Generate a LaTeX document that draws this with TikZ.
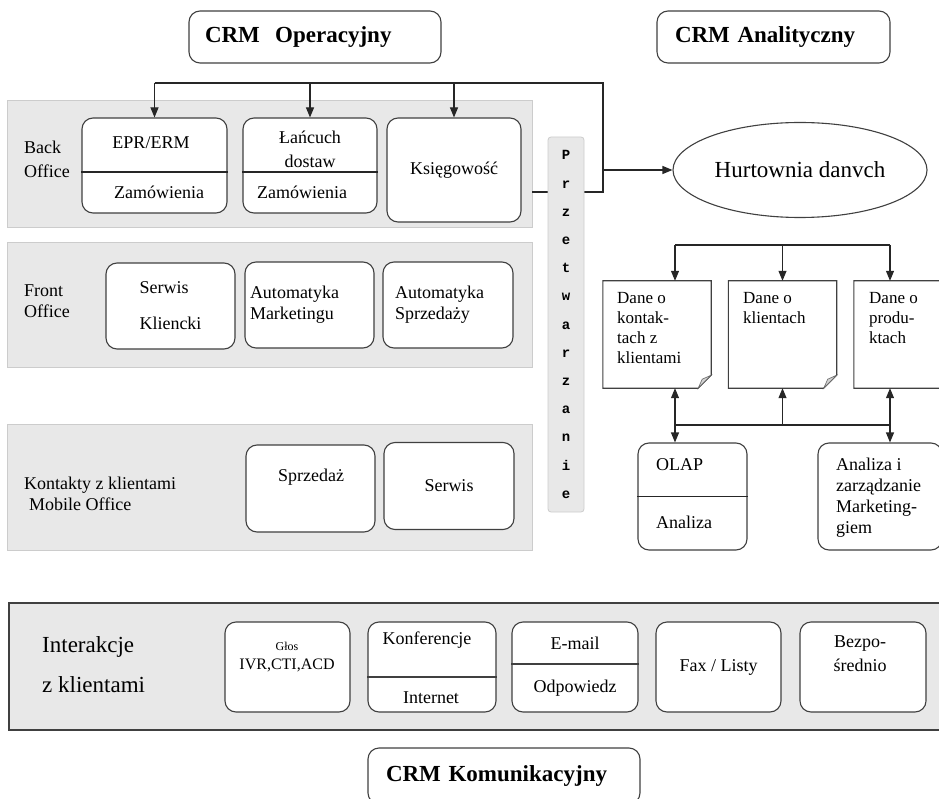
\documentclass[tikz,border=0pt]{standalone}
\usepackage{fontspec}
\setmainfont{Liberation Serif}
\setmonofont{Liberation Mono}
\usepackage{tikz}
\usetikzlibrary{arrows.meta, shapes.geometric}

\begin{document}
\begin{tikzpicture}[x=1pt, y=-1pt,
    band/.style={draw=gray!40, fill=gray!18, line width=0.8pt},
    rbox/.style={draw=black!75, fill=white, rounded corners=11pt, line width=1.1pt, inner sep=0pt},
    crmbox/.style={rbox, font=\fontsize{23}{27}\selectfont\bfseries, align=left},
    txt/.style={font=\fontsize{18}{21}\selectfont, align=left, inner sep=0pt},
    doctxt/.style={txt, font=\fontsize{17}{20}\selectfont, anchor=north west},
    docbox/.style={fill=white, inner sep=0pt, minimum width=108pt, minimum height=107pt},
    conn/.style={line width=1.1pt, black!85},
    arr/.style={-{Triangle[length=10pt, width=8pt]}},
    darr/.style={{Triangle[length=10pt, width=8pt]}-{Triangle[length=10pt, width=8pt]}}]

    \useasboundingbox (0,0) rectangle (939,799);
    \clip (0,0) rectangle (939,799);

    % Grey bands
    \node[band, minimum width=525pt, minimum height=127pt] (back) at (269.5,163.5) {};
    \node[band, minimum width=525pt, minimum height=125pt] (front) at (269.5,304.5) {};
    \node[band, minimum width=525pt, minimum height=126pt] (mobile) at (269.5,487) {};
    \node[band, draw=black!75, line width=1.6pt, minimum width=941pt, minimum height=127pt] (inter) at (479.5,666.5) {};

    % CRM titles
    \node[crmbox, minimum height=52pt, text width=220pt, inner xsep=16pt] (op) at (315,37) {CRM\ \ Operacyjny};
    \node[crmbox, minimum height=52pt, text width=197pt, inner xsep=18pt] (ana) at (773.5,37) {CRM Analityczny};
    \node[crmbox, minimum height=56pt, text width=236pt, inner xsep=18pt] (kom) at (504,776) {CRM Komunikacyjny};

    % Back office
    \node[txt, anchor=west] (backl) at (24,159.5) {Back\\[3pt]Office};
    \node[rbox, minimum width=145pt, minimum height=95pt] (epr) at (154.5,165.5) {};
    \draw[line width=2pt, black!85] ([yshift=-6.5pt]epr.west) -- ([yshift=-6.5pt]epr.east);
    \node[txt] (eprt) at (151,143) {EPR/ERM};
    \node[txt] (eprz) at (159,192) {Zamówienia};
    \node[rbox, minimum width=134pt, minimum height=95pt] (lan) at (310,165.5) {};
    \draw[line width=2pt, black!85] ([yshift=-6.5pt]lan.west) -- ([yshift=-6.5pt]lan.east);
    \node[txt, align=center] (lant) at (310,149) {Łańcuch\\[3pt]dostaw};
    \node[txt] (lanz) at (302,192) {Zamówienia};
    \node[rbox, txt, minimum width=134pt, minimum height=104pt] (ksi) at (454,170) {Księgowość};

    % Bus from CRM operacyjny
    \coordinate (bus) at (603,83);
    \coordinate (busend) at (603,192);
    \draw[conn] (epr.north |- bus) -- (bus) -- (busend) -- (back.east |- busend);
    \foreach \n in {epr,lan,ksi}
        \draw[conn, arr] (\n.north |- bus) -- (\n.north);

    % Front office
    \node[txt, anchor=west] (frontl) at (24,301.5) {Front\\Office};
    \node[rbox, txt, minimum width=129pt, minimum height=86pt] (serk) at (170.5,306) {Serwis\\[15pt]Kliencki};
    \node[rbox, txt, minimum width=129pt, minimum height=86pt, text width=119pt, inner xsep=5pt] (amk) at (309.5,305) {Automatyka\\Marketingu};
    \node[rbox, txt, minimum width=130pt, minimum height=86pt, text width=106pt, inner xsep=12pt] (asp) at (448,305) {Automatyka\\Sprzedaży};

    % Mobile office
    \node[txt, anchor=west] (mobl) at (24,494) {Kontakty z klientami\\\hspace*{5pt}Mobile Office};
    \node[rbox, minimum width=129pt, minimum height=87pt] (spr) at (310.5,488.5) {};
    \node[txt] (sprt) at (311,477) {Sprzedaż};
    \node[rbox, txt, minimum width=130pt, minimum height=87pt] (serw) at (449,486) {Serwis};

    % Przetwarzanie
    \node[band, rounded corners=3pt, minimum width=36pt, minimum height=375pt, inner sep=0pt,
          font=\fontsize{14}{28.2}\selectfont\ttfamily\bfseries, align=center] (przet) at (566,324.5)
          {P\\r\\z\\e\\t\\w\\a\\r\\z\\a\\n\\i\\e};

    % Hurtownia
    \node[ellipse, draw=black!75, fill=white, line width=1.1pt, minimum width=254pt, minimum height=95pt,
          font=\fontsize{23}{27}\selectfont] (hurt) at (800,170) {Hurtownia danvch};
    \draw[conn, arr] (bus |- hurt.west) -- (hurt.west);

    % Documents
    \node[docbox] (dk) at (657,334.5) {};
    \node[docbox] (dkl) at (782.5,334.5) {};
    \node[docbox] (dp) at (908,334.5) {};
    \foreach \d in {dk,dkl,dp} {
        \draw[line width=1.1pt, black!75] (\d.north west) -- (\d.north east) -- ([yshift=13pt]\d.south east)
            -- ([xshift=-13pt]\d.south east) -- (\d.south west) -- cycle;
        \filldraw[fill=gray!35, draw=black!60, line width=0.6pt] ([xshift=-13pt]\d.south east)
            -- ([yshift=13pt]\d.south east) -- ([xshift=-9pt, yshift=9pt]\d.south east) -- cycle;
    }
    \node[doctxt] (dkt) at (617,292) {Dane o\\kontak-\\tach z\\klientami};
    \node[doctxt] (dklt) at (743,292) {Dane o\\klientach};
    \node[doctxt] (dpt) at (869,292) {Dane o\\produ-\\ktach};

    \coordinate (rbus1) at (675,245);
    \coordinate (rbus3) at (890,245);
    \draw[conn] (rbus1) -- (rbus3);
    \draw[conn, arr] (rbus1) -- (rbus1 |- dk.north);
    \draw[conn, arr] (dkl.north |- rbus1) -- (dkl.north);
    \draw[conn, arr] (rbus3) -- (rbus3 |- dp.north);

    % OLAP and marketing
    \node[rbox, minimum width=109pt, minimum height=107pt] (olap) at (692.5,496.5) {};
    \draw[conn] (olap.west) -- (olap.east);
    \node[txt, anchor=west] (olapt) at (656,465) {OLAP};
    \node[txt, anchor=west] (olapa) at (656,522) {Analiza};
    \node[rbox, minimum width=124pt, minimum height=107pt] (anm) at (880,496.5) {};
    \node[txt, anchor=north west] (anmt) at (836,458) {Analiza i\\zarządzanie\\Marketing-\\giem};

    \coordinate (bbus1) at (675,425);
    \coordinate (bbus3) at (890,425);
    \draw[conn] (bbus1) -- (bbus3);
    \draw[conn, arr] (dkl.south |- bbus1) -- (dkl.south);
    \draw[conn, darr] (bbus1 |- dk.south) -- (bbus1 |- olap.north);
    \draw[conn, darr] (bbus3 |- dp.south) -- (bbus3 |- anm.north);

    % Interakcje z klientami
    \node[txt, anchor=west, font=\fontsize{23}{27}\selectfont] (interl) at (42,665) {Interakcje\\[13pt]z klientami};
    \node[rbox, minimum width=125pt, minimum height=90pt] (glos) at (287.5,667) {};
    \node[txt, align=center, font=\fontsize{16}{19}\selectfont] (glost) at (287,657) {{\fontsize{12}{14}\selectfont Głos}\\IVR,CTI,ACD};
    \node[rbox, minimum width=128pt, minimum height=90pt] (konf) at (432,667) {};
    \draw[line width=1.6pt, black!75] ([yshift=-10pt]konf.west) -- ([yshift=-10pt]konf.east);
    \node[txt] (konft) at (427,640) {Konferencje};
    \node[txt] (konfi) at (431,698) {Internet};
    \node[rbox, minimum width=126pt, minimum height=90pt] (mail) at (575,667) {};
    \draw[line width=1.6pt, black!75] ([yshift=3pt]mail.west) -- ([yshift=3pt]mail.east);
    \node[txt] (mailt) at (575,643) {E-mail};
    \node[txt] (maila) at (575,688) {Odpowiedz};
    \node[rbox, txt, minimum width=125pt, minimum height=90pt] (fax) at (718.5,667) {Fax / Listy};
    \node[rbox, minimum width=126pt, minimum height=90pt] (bezp) at (863,667) {};
    \node[txt, align=center] (bezpt) at (860,654) {Bezpo-\\[3pt]średnio};
\end{tikzpicture}
\end{document}
